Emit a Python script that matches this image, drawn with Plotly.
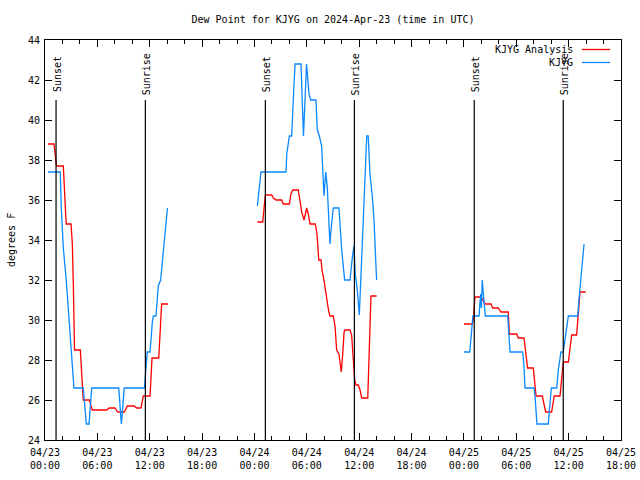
import plotly.graph_objects as go

# ---------------- data ----------------
days = ["2024-04-23", "2024-04-24", "2024-04-25"]

analysis_d1_t = ["00:21","01:02","01:19","02:06","02:22","02:26","02:59","03:08","03:15","03:23","04:03","04:12","04:23","05:05","05:25","07:04","07:22","08:01","08:20","09:05","09:26","10:12","10:30","11:00","11:16","12:02","12:16","13:02","13:15","13:22","14:06"]
analysis_d1_v = [38.8,38.8,37.7,37.7,35.3,34.8,34.8,33.8,31.7,28.5,28.5,27.3,26.0,26.0,25.5,25.5,25.6,25.6,25.4,25.4,25.7,25.7,25.6,25.6,26.2,26.2,28.1,28.1,30.0,30.8,30.8]

analysis_d2_t = ["00:20","00:57","01:06","01:15","01:59","02:10","02:28","03:07","03:18","04:00","04:11","04:23","05:01","05:13","05:25","05:41","05:59","06:10","06:22","06:58","07:08","07:15","07:22","07:38","07:44","07:58","08:12","08:21","08:30","08:39","09:02","09:14","09:19","09:25","09:41","09:53","09:57","10:07","10:16","10:22","10:57","11:08","11:19","11:29","11:38","11:54","12:06","12:17","12:59","13:10","13:21","14:00"]
analysis_d2_v = [34.9,34.9,35.6,36.25,36.25,36.1,36.0,36.0,35.8,35.8,36.3,36.5,36.5,35.8,35.4,35.0,35.6,35.3,34.8,34.8,34.4,33.8,33.0,33.0,32.5,32.0,31.3,30.8,30.45,30.2,30.2,29.7,29.0,28.5,28.3,27.7,27.4,28.3,29.4,29.5,29.5,29.25,28.2,27.0,26.75,26.75,26.5,26.1,26.1,28.7,31.2,31.2]

analysis_d3_t = ["00:01","00:58","01:05","01:16","01:58","02:13","02:25","03:06","03:18","03:56","04:15","05:05","05:12","06:03","06:14","06:53","07:05","07:18","07:57","08:09","08:16","08:59","09:11","09:22","10:03","10:14","10:21","11:01","11:12","11:23","11:58","12:09","12:21","12:55","13:02","13:11","13:18","13:57"]
analysis_d3_v = [29.8,29.8,30.0,31.15,31.15,30.95,30.8,30.8,30.6,30.6,30.4,30.4,29.3,29.3,29.1,29.1,28.2,27.6,27.6,26.7,26.2,26.2,25.75,25.4,25.4,26.0,26.2,26.2,27.2,27.9,27.9,28.5,29.25,29.25,30.0,31.0,31.4,31.4]

kjyg_d1_t = ["00:21","01:45","01:52","02:06","02:26","02:54","03:19","04:23","04:44","05:03","05:21","08:27","08:45","09:05","11:24","11:43","12:02","12:18","12:25","12:43","12:59","13:15","13:33","13:47","14:02"]
kjyg_d1_v = [37.4,37.4,35.6,33.6,32.0,28.9,26.6,26.6,24.8,24.8,26.6,26.6,24.8,26.6,26.6,28.4,28.4,29.9,30.2,30.2,31.7,32.0,33.5,34.5,35.6]

kjyg_d2_t = ["00:20","00:45","03:37","03:42","04:00","04:16","04:27","04:39","05:20","05:27","05:37","05:58","06:15","06:27","07:03","07:12","07:26","07:42","07:49","07:58","08:10","08:21","08:28","08:39","08:44","09:02","09:41","10:00","10:20","10:57","11:11","11:24","11:33","11:47","12:01","12:10","12:21","12:33","12:52","13:02","13:14","13:30","13:42","13:56","14:00"]
kjyg_d2_v = [35.7,37.4,37.4,38.3,39.2,39.2,41.0,42.8,42.8,41.2,39.2,42.8,41.3,41.0,41.0,39.5,39.2,38.7,37.3,36.2,37.4,36.6,35.5,33.8,34.3,35.6,35.6,33.5,32.0,32.0,33.0,33.7,32.3,31.5,30.25,32.0,34.0,36.0,39.2,39.2,37.3,36.2,35.0,32.6,32.0]

kjyg_d3_t = ["00:01","00:40","00:51","01:02","01:44","01:55","02:00","02:06","02:16","02:27","05:01","05:10","05:17","06:44","06:53","07:00","08:02","08:09","08:16","08:22","09:40","09:52","10:01","10:38","10:49","11:07","11:23","11:58","13:02","13:11","13:25","13:37","13:46"]
kjyg_d3_v = [28.4,28.4,29.3,30.2,30.2,31.3,30.6,32.0,31.1,30.2,30.2,29.3,28.4,28.4,27.7,26.6,26.6,26.2,25.6,24.8,24.8,25.75,26.6,26.6,27.5,28.4,28.4,30.2,30.2,31.0,32.0,33.0,33.8]

sun_times = ["2024-04-23 01:16","2024-04-23 11:30","2024-04-24 01:15","2024-04-24 11:27","2024-04-25 01:11","2024-04-25 11:23"]
sun_labels = ["Sunset","Sunrise","Sunset","Sunrise","Sunset","Sunrise"]

title_text = "Dew Point for KJYG on 2024-Apr-23 (time in UTC)"
y_label = "degrees F"


def join(segments):
    xs, ys = [], []
    for k, (day, ts, vs) in enumerate(segments):
        xs += [day + " " + t for t in ts]
        ys += list(vs)
        if k < len(segments) - 1:
            xs.append(day + " 19:00")
            ys.append(None)
    return xs, ys


ax_, ay_ = join([(days[0], analysis_d1_t, analysis_d1_v),
                 (days[1], analysis_d2_t, analysis_d2_v),
                 (days[2], analysis_d3_t, analysis_d3_v)])
ox_, oy_ = join([(days[0], kjyg_d1_t, kjyg_d1_v),
                 (days[1], kjyg_d2_t, kjyg_d2_v),
                 (days[2], kjyg_d3_t, kjyg_d3_v)])

RED = "#ff0000"
BLUE = "#0a88ff"
FONT = "DejaVu Sans Mono, Liberation Mono, monospace"
FIG_W, FIG_H = 640, 480

fig = go.Figure()
fig.add_trace(go.Scatter(x=ax_, y=ay_, mode="lines", name="KJYG Analysis",
                         line=dict(color=RED, width=1.3), connectgaps=False))
fig.add_trace(go.Scatter(x=ox_, y=oy_, mode="lines", name="KJYG",
                         line=dict(color=BLUE, width=1.3), connectgaps=False))

for t, lab in zip(sun_times, sun_labels):
    fig.add_shape(type="line", xref="x", yref="y", x0=t, x1=t, y0=24, y1=41,
                  line=dict(color="black", width=1.2))
    fig.add_annotation(x=t, y=42.3, xref="x", yref="y", text=lab, textangle=-90,
                       showarrow=False, xshift=1, font=dict(size=10, family=FONT, color="black"))

# legend (gnuplot style: text then sample)
W, H = 576.0, 400.0
for i, (name, col) in enumerate([("KJYG Analysis", RED), ("KJYG", BLUE)]):
    ypx = 49.5 + i * 13
    yp = 1 - (ypx - 40) / H
    fig.add_annotation(x=(575 - 45) / W, y=yp, xref="paper", yref="paper", text=name,
                       showarrow=False, xanchor="right", yanchor="middle",
                       font=dict(size=10, family=FONT, color="black"))
    fig.add_shape(type="line", xref="paper", yref="paper",
                  x0=(582 - 45) / W, x1=(610 - 45) / W, y0=yp, y1=yp,
                  line=dict(color=col, width=1.3))

fig.add_annotation(x=(11 - 45) / W, y=0.5, xref="paper", yref="paper", text=y_label,
                   textangle=-90, showarrow=False, xanchor="center", yanchor="middle",
                   font=dict(size=10, family=FONT, color="black"))

fig.update_layout(
    width=FIG_W, height=FIG_H,
    margin=dict(l=45, r=19, t=40, b=40, autoexpand=False),
    paper_bgcolor="white", plot_bgcolor="white",
    showlegend=False, hovermode=False,
    font=dict(family=FONT, size=10, color="black"),
    title=dict(text=title_text, x=0.5, xref="paper", y=1 - 19 / FIG_H, yref="container",
               xanchor="center", yanchor="middle", font=dict(size=10, family=FONT, color="black")),
    xaxis=dict(type="date", range=["2024-04-23 00:00", "2024-04-25 18:00"],
               tick0="2024-04-23 00:00", dtick=6 * 3600 * 1000, tickformat="%m/%d<br>%H:%M",
               ticks="inside", ticklen=7, tickcolor="black", showline=True, linecolor="black",
               linewidth=1, mirror="ticks", showgrid=False, zeroline=False, ticklabelstandoff=3,
               minor=dict(dtick=2 * 3600 * 1000, ticks="inside", ticklen=4, tickcolor="black", showgrid=False)),
    yaxis=dict(range=[24, 44], dtick=2, ticks="inside", ticklen=7, tickcolor="black",
               showline=True, linecolor="black", linewidth=1, mirror="ticks",
               showgrid=False, zeroline=False, ticklabelstandoff=2),
)

# remove the browser's default 8px page margin so the figure fills the window exactly
fig.write_html("out.html", config={"displayModeBar": False},
               post_script="document.body.style.margin='0';")
